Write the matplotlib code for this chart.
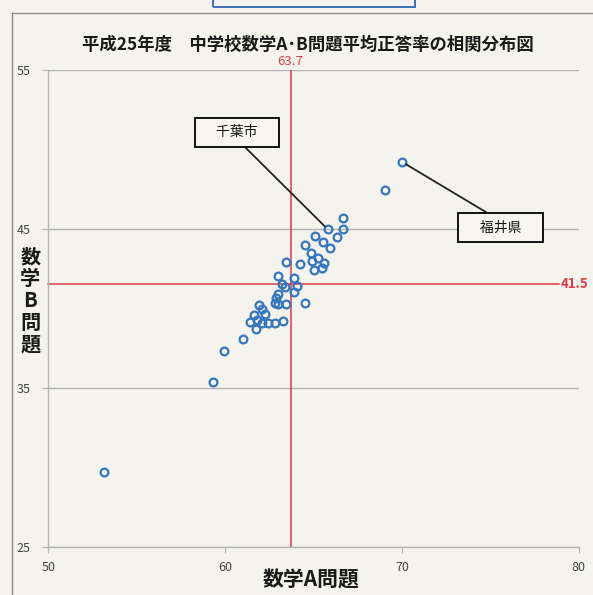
import matplotlib
matplotlib.use('Agg')
import matplotlib.pyplot as plt

plt.rcParams['font.family'] = ['Noto Sans CJK JP', 'DejaVu Sans']

# 数学A / 数学B 平均正答率
math_a = [53.17, 59.31, 59.92, 61.01, 61.41, 61.61, 61.81, 61.75, 61.94, 62.09,
          62.24, 62.09, 62.41, 62.80, 63.26, 62.80, 63.00, 62.90, 63.00, 63.47,
          64.49, 63.22, 63.37, 64.07, 63.88, 62.97, 63.88, 63.45, 64.24, 65.05,
          64.50, 64.87, 65.28, 65.58, 64.92, 65.49, 65.07, 65.52, 65.92, 65.81,
          66.34, 66.66, 66.66, 69.02, 70.02]
math_b = [29.70, 35.37, 37.32, 38.07, 39.14, 39.56, 39.25, 38.68, 40.19, 39.94,
          39.66, 39.10, 39.06, 39.10, 39.20, 40.35, 40.29, 40.67, 40.88, 40.25,
          40.35, 41.55, 41.34, 41.40, 41.02, 42.03, 41.88, 42.91, 42.81, 42.41,
          43.98, 43.49, 43.14, 42.83, 42.97, 42.55, 44.54, 44.18, 43.81, 44.96,
          44.48, 44.96, 45.69, 47.45, 49.19]

avg_a = 63.7
avg_b = 41.5

x_ticks = [50, 60, 70, 80]
y_ticks = [25, 35, 45, 55]

labels = ['千葉市', '福井県']
label_points = [(65.81, 44.96), (70.02, 49.19)]
label_boxes = [(60.67, 51.07), (75.56, 45.07)]

paper = '#f4f3ee'
blue = '#3476bd'
red = '#dc3c46'
grid = '#b4b4b4'

fig = plt.figure(figsize=(5.93, 5.95), dpi=100, facecolor=paper)
ax = fig.add_axes([0.0815, 0.0805, 0.8945, 0.8025], facecolor=paper)

ax.set_xlim(50, 80)
ax.set_ylim(25, 55)
ax.set_xticks(x_ticks)
ax.set_yticks(y_ticks)
ax.yaxis.grid(True, color=grid, lw=1.0)
ax.set_axisbelow(True)
for s in ['top', 'right']:
    ax.spines[s].set_visible(False)
for s in ['left', 'bottom']:
    ax.spines[s].set_color(grid)
    ax.spines[s].set_linewidth(1.0)
ax.tick_params(axis='both', colors=grid, labelcolor='#444444', labelsize=9, length=4)
ax.tick_params(axis='y', pad=9)
ax.tick_params(axis='x', pad=6)

# average lines
ax.axvline(avg_a, color=red, lw=1.1, zorder=2)
ax.plot([50, 78.88], [avg_b, avg_b], color=red, lw=1.1, zorder=2, clip_on=False)
ax.text(avg_a, 55.1, '{}'.format(avg_a), color=red, fontsize=9.5, ha='center', va='bottom')
ax.text(78.99, avg_b, '{}'.format(avg_b), color=red, fontsize=9.5, ha='left', va='center',
        fontweight='bold', clip_on=False)

ax.plot(math_a, math_b, 'o', ms=5.6, mfc='none', mec=blue, mew=1.6, zorder=3)

# callouts
for name, pt, box, rel in zip(labels, label_points, label_boxes, [(0.5, 0.0), (0.5, 1.0)]):
    ax.annotate('\u3000' + name + '\u3000', xy=pt, xytext=box, fontsize=10,
                ha='center', va='center', color='#111111',
                bbox=dict(boxstyle='square,pad=0.55', fc='#f7f6f2', ec='#111111', lw=1.4),
                arrowprops=dict(arrowstyle='-', color='#222222', lw=1.3,
                                relpos=rel, shrinkA=0, shrinkB=3),
                zorder=4)

fig.text(0.52, 0.925, '平成25年度\u3000中学校数学A･B問題平均正答率の相関分布図',
         ha='center', va='center', fontsize=12.5, fontweight='bold', color='#1a1a1a')
fig.text(0.525, 0.025, '数学A問題', ha='center', va='center', fontsize=15,
         fontweight='bold', color='#1a1a1a')
fig.text(0.051, 0.495, '数\n学\nB\n問\n題', ha='center', va='center', fontsize=14.5,
         fontweight='bold', color='#1a1a1a', linespacing=1.05)

# chart frame from the scan
fig.add_artist(plt.Line2D([0.02, 0.02], [0.0, 0.978], color='#8a8a8a', lw=1.0))
fig.add_artist(plt.Line2D([0.02, 1.0], [0.978, 0.978], color='#8a8a8a', lw=1.0))
fig.add_artist(plt.Rectangle((0.36, 0.988), 0.34, 0.03, fill=False, ec='#3a6fb8', lw=1.4))

plt.savefig('out.png', dpi=100, facecolor=paper)
